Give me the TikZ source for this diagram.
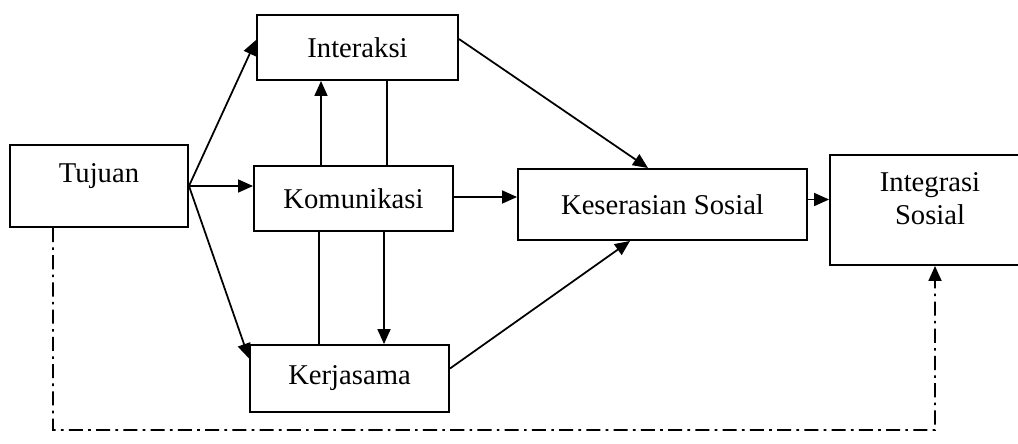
\documentclass[tikz,border=0pt]{standalone}
\usepackage{fontspec}
\setmainfont{Liberation Serif}
\usepackage{tikz}
\usetikzlibrary{arrows.meta}

\begin{document}
\begin{tikzpicture}[
    box/.style={rectangle, draw, line width=1.1pt, minimum width=4cm, minimum height=1.3cm, align=center, font=\fontsize{16.3}{19}\selectfont},
    arrow/.style={-{Triangle[length=0.3cm,width=0.26cm]}, line width=1pt},
    link/.style={line width=1pt},
    feedback/.style={line width=1pt, dash pattern=on 8pt off 3pt on 1.5pt off 3pt}
]
    % Page frame
    \useasboundingbox (0,0) rectangle (20.36,-8.86);
    \clip (0,0) rectangle (20.36,-8.86);

    % Source
    \node[box, minimum width=3.56cm, minimum height=1.64cm, text height=0.4cm, text depth=0.54cm] (tujuan) at (1.98,-3.72) {Tujuan};

    % Three middle boxes
    \node[box, minimum width=4.02cm] (interaksi) at (7.15,-0.95) {Interaksi};
    \node[box, minimum width=3.98cm] (komunikasi) at (7.07,-3.97) {Komunikasi};
    \node[box, minimum width=3.98cm, minimum height=1.34cm] (kerjasama) at (6.99,-7.57) {Kerjasama};

    % Harmony
    \node[box, minimum width=5.78cm, minimum height=1.42cm] (keserasian) at (13.25,-4.09) {Keserasian Sosial};

    % Integration
    \node[box, minimum width=4cm, minimum height=2.2cm, text depth=0.45cm] (integrasi) at (18.6,-4.2) {Integrasi\\Sosial};

    % Fan out of Tujuan
    \draw[arrow] (tujuan.east) -- ([yshift=0.15cm]interaksi.west);
    \draw[arrow] (tujuan.east) -- (tujuan.east -| komunikasi.west);
    \draw[arrow] (tujuan.east) -- ([yshift=0.4cm]kerjasama.west);

    % Links between the middle boxes
    \draw[arrow] ([xshift=-0.65cm]komunikasi.north) -- ([xshift=-0.65cm]komunikasi.north |- interaksi.south);
    \draw[link] ([xshift=0.59cm]interaksi.south) -- ([xshift=0.59cm]interaksi.south |- komunikasi.north);
    \draw[link] ([xshift=-0.69cm]komunikasi.south) -- ([xshift=-0.69cm]komunikasi.south |- kerjasama.north);
    \draw[arrow] ([xshift=0.61cm]komunikasi.south) -- ([xshift=0.61cm]komunikasi.south |- kerjasama.north);

    % Into Keserasian Sosial
    \draw[arrow] ([yshift=0.17cm]interaksi.east) -- ([xshift=-0.29cm]keserasian.north);
    \draw[arrow] ([yshift=0.03cm]komunikasi.east) -- ([yshift=0.03cm]komunikasi.east -| keserasian.west);
    \draw[arrow] ([yshift=0.2cm]kerjasama.east) -- ([xshift=-0.65cm]keserasian.south);

    % Into Integrasi Sosial
    \draw[arrow] ([yshift=0.1cm]keserasian.east) -- ([yshift=0.1cm]keserasian.east -| integrasi.west);

    % Feedback loop
    \coordinate (loop) at (18.7,-8.6);
    \draw[feedback, -{Triangle[length=0.3cm,width=0.26cm]}] ([xshift=-0.92cm]tujuan.south) |- (loop) -- ([xshift=0.1cm]integrasi.south);
\end{tikzpicture}
\end{document}
